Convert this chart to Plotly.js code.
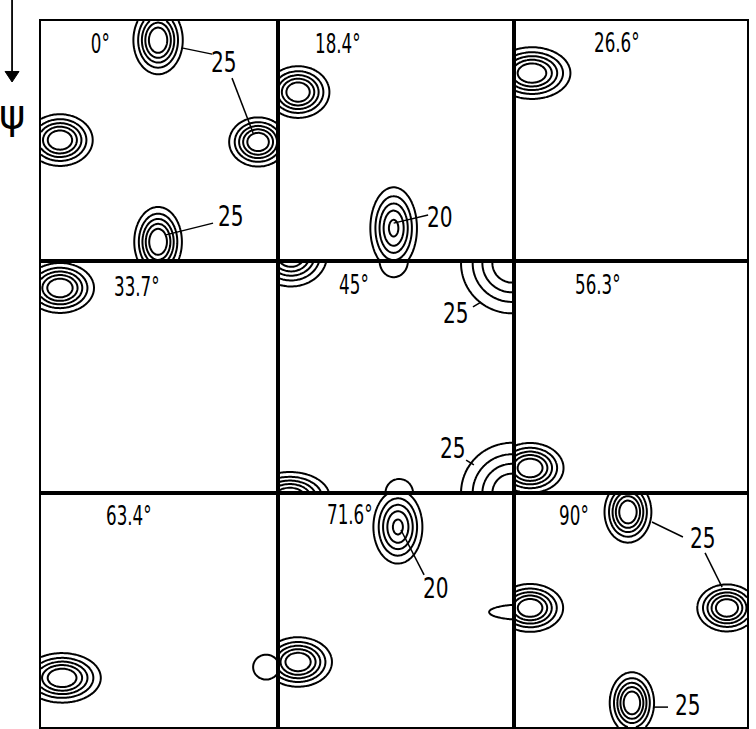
<!DOCTYPE html>
<html>
<head>
<meta charset="utf-8">
<script src="https://cdn.plot.ly/plotly-3.0.1.min.js"></script>
<style>
html,body{margin:0;padding:0;background:#fff;}
#chart{width:756px;height:729px;}
</style>
</head>
<body>
<div id="chart"></div>
<script>
const panelAngles = ['0°', '18.4°', '26.6°', '33.7°', '45°', '56.3°', '63.4°', '71.6°', '90°'];

// peaks (one entry per contour cluster)
const peakPanel = [0, 0, 0, 0, 1, 1, 2, 3, 4, 4, 4, 4, 4, 4, 5, 6, 6, 7, 7, 7, 8, 8, 8, 8];
const peakX   = [0.494, 0.080, 0.916, 0.494, 0.085, 0.490, 0.077, 0.080, 0.055, 0.992, 0.992, 0.050, 0.490, 0.513, 0.069, 0.089, 0.950, 0.508, 0.085, 1.034, 0.489, 0.069, 0.914, 0.506];
const peakY   = [0.080, 0.496, 0.504, 0.920, 0.296, 0.863, 0.217, 0.116, -0.025, 0.009, 1.000, 1.017, 0.000, 1.000, 0.892, 0.790, 0.744, 0.145, 0.722, 0.509, 0.081, 0.491, 0.491, 0.897];
const peakSx  = [0.058, 0.077, 0.068, 0.056, 0.074, 0.058, 0.092, 0.080, 0.085, 0.130, 0.130, 0.094, 0.066, 0.064, 0.080, 0.091, 0.061, 0.061, 0.080, 0.155, 0.056, 0.079, 0.071, 0.053];
const peakSy  = [0.079, 0.060, 0.057, 0.081, 0.060, 0.100, 0.060, 0.060, 0.075, 0.130, 0.130, 0.060, 0.077, 0.067, 0.060, 0.059, 0.059, 0.092, 0.059, 0.036, 0.073, 0.057, 0.056, 0.073];
const peakAmp = [1, 1, 1, 1, 1, 0.85, 1, 1, 1, 0.8, 0.8, 1, 0.3, 0.3, 1, 1, 0.3, 0.85, 1, 0.3, 1, 1, 1, 1];

// contour levels
const levelStart = 0.2, levelEnd = 0.8, levelStep = 0.15;

// intensity labels and their leader lines
const noteText  = ['25', '25', '20', '25', '25', '20', '25', '25'];
const notePanel = [0, 0, 1, 4, 4, 7, 8, 8];
const noteX = [0.774, 0.800, 0.686, 0.754, 0.742, 0.669, 0.811, 0.747];
const noteY = [0.171, 0.813, 0.817, 0.224, 0.810, 0.410, 0.196, 0.906];

const leaderPanel = [0, 0, 0, 1, 4, 4, 7, 8, 8, 8];
const leaderX0 = [0.599, 0.806, 0.523, 0.490, 0.826, 0.797, 0.521, 0.592, 0.820, 0.597];
const leaderY0 = [0.113, 0.238, 0.892, 0.842, 0.198, 0.858, 0.158, 0.124, 0.256, 0.915];
const leaderX1 = [0.722, 0.895, 0.726, 0.636, 0.860, 0.830, 0.619, 0.725, 0.893, 0.661];
const leaderY1 = [0.138, 0.467, 0.842, 0.808, 0.177, 0.879, 0.350, 0.188, 0.402, 0.915];

// ---- layout helpers ----
const colDom = [[0, 0.3357], [0.3357, 0.670], [0.670, 1]];
const rowDom = [[0.660, 1], [0.3314, 0.660], [0, 0.3314]];
const angleLabelPos = [[0.249, 0.092], [0.254, 0.092], [0.442, 0.088], [0.405, 0.108], [0.322, 0.103], [0.360, 0.099], [0.371, 0.094], [0.305, 0.090], [0.258, 0.094]];

const FONT = 'DejaVu Sans, sans-serif';
const N = 161;
const grid = [];
for (let i = 0; i < N; i++) grid.push(i / (N - 1));

function axName(i) { return i === 0 ? '' : String(i + 1); }

const traces = [];
const layout = {
  width: 756, height: 729,
  margin: {l: 41, r: 9, t: 21, b: 2},
  paper_bgcolor: '#fff', plot_bgcolor: '#fff',
  showlegend: false,
  annotations: [], shapes: []
};

for (let p = 0; p < 9; p++) {
  const r = Math.floor(p / 3), c = p % 3;
  const z = [];
  for (let iy = 0; iy < N; iy++) {
    const row = [];
    for (let ix = 0; ix < N; ix++) {
      let v = 0;
      for (let k = 0; k < peakPanel.length; k++) {
        if (peakPanel[k] !== p) continue;
        const dx = (grid[ix] - peakX[k]) / peakSx[k];
        const dy = (grid[iy] - peakY[k]) / peakSy[k];
        v += peakAmp[k] * Math.exp(-0.5 * (dx * dx + dy * dy));
      }
      row.push(v);
    }
    z.push(row);
  }
  const n = axName(p);
  traces.push({
    type: 'contour', x: grid, y: grid, z: z,
    xaxis: 'x' + n, yaxis: 'y' + n,
    showscale: false, hoverinfo: 'skip',
    colorscale: [[0, '#000'], [1, '#000']],
    contours: {coloring: 'lines', start: levelStart, end: levelEnd, size: levelStep, showlabels: false},
    line: {width: 2, smoothing: 0.6}
  });
  const axCommon = {showgrid: false, zeroline: false, showticklabels: false, ticks: '',
    showline: true, mirror: true, linecolor: '#000', linewidth: 2, fixedrange: true};
  layout['xaxis' + n] = Object.assign({}, axCommon, {domain: colDom[c], range: [0, 1], anchor: 'y' + n});
  layout['yaxis' + n] = Object.assign({}, axCommon, {domain: rowDom[r], range: [1, 0], anchor: 'x' + n});
  layout.annotations.push({
    xref: 'x' + n, yref: 'y' + n, x: angleLabelPos[p][0], y: angleLabelPos[p][1],
    text: panelAngles[p], showarrow: false, xanchor: 'center', yanchor: 'middle',
    font: {family: FONT, size: 27, color: '#000'}
  });
}

for (let k = 0; k < noteText.length; k++) {
  const n = axName(notePanel[k]);
  layout.annotations.push({
    xref: 'x' + n, yref: 'y' + n, x: noteX[k], y: noteY[k],
    text: noteText[k], showarrow: false, xanchor: 'center', yanchor: 'middle',
    font: {family: FONT, size: 28, color: '#000'}
  });
}
for (let k = 0; k < leaderPanel.length; k++) {
  const n = axName(leaderPanel[k]);
  layout.shapes.push({
    type: 'line', xref: 'x' + n, yref: 'y' + n,
    x0: leaderX0[k], y0: leaderY0[k], x1: leaderX1[k], y1: leaderY1[k],
    line: {color: '#000', width: 1.5}
  });
}

// psi axis arrow and symbol outside the grid
layout.shapes.push({
  type: 'line', xref: 'paper', yref: 'paper', x0: -0.041, x1: -0.041, y0: 1.04, y1: 0.925,
  line: {color: '#000', width: 1.8}
});
layout.shapes.push({
  type: 'path', xref: 'paper', yref: 'paper',
  path: 'M -0.0509 0.9285 L -0.0311 0.9285 L -0.041 0.9136 Z',
  fillcolor: '#000', line: {color: '#000', width: 1}
});
layout.annotations.push({
  xref: 'paper', yref: 'paper', x: -0.041, y: 0.868,
  text: 'ψ', showarrow: false, xanchor: 'center', yanchor: 'middle',
  font: {family: 'DejaVu Sans, sans-serif', size: 40, color: '#000'}
});

Plotly.newPlot('chart', traces, layout, {staticPlot: true, displayModeBar: false}).then(function () {
  // the original lettering is a tall, narrow stencil face: compress the text horizontally
  document.querySelectorAll('#chart text.annotation-text').forEach(function (el) {
    const t = el.textContent;
    let s = 1;
    if (t.indexOf('°') >= 0) s = 0.62;
    else if (t === '25' || t === '20') s = 0.72;
    if (s === 1) return;
    const bb = el.getBBox();
    const cx = bb.x + bb.width / 2;
    const prev = el.getAttribute('transform') || '';
    el.setAttribute('transform', prev + ' translate(' + cx + ',0) scale(' + s + ',1) translate(' + (-cx) + ',0)');
  });
});
</script>
</body>
</html>
